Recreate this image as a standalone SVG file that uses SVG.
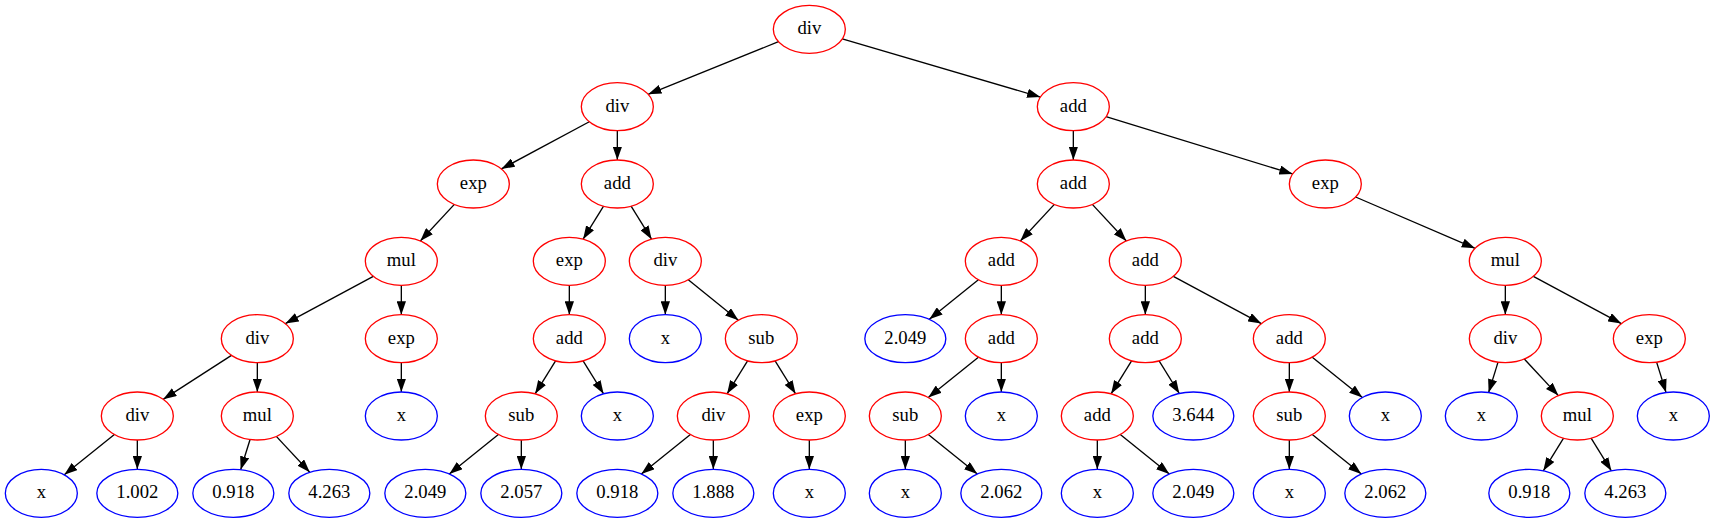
<svg xmlns="http://www.w3.org/2000/svg" width="1715" height="523" viewBox="0 0 1715 523" font-family="Liberation Serif, Times New Roman, serif">
<style>
.op ellipse{fill:none;stroke:#ff0000;stroke-width:1.33}
.lf ellipse{fill:none;stroke:#0000ff;stroke-width:1.33}
text{font-size:18.67px;text-anchor:middle;fill:#000}
#edges line{stroke:#000;stroke-width:1.33;marker-end:url(#ah)}
</style>
<defs>
<marker id="ah" markerUnits="userSpaceOnUse" viewBox="0 0 13.33 9.33" refX="13.33" refY="4.67" markerWidth="13.33" markerHeight="9.33" orient="auto">
<path d="M0,0 L13.33,4.67 L0,9.33 z" fill="#000"/>
</marker>
</defs>
<rect width="1715" height="523" fill="#fff"/>
<g id="edges">
<line x1="778.52" y1="41.74" x2="648.14" y2="94.26"/>
<line x1="842.29" y1="38.98" x2="1040.37" y2="97.02"/>
<line x1="589.30" y1="121.73" x2="501.36" y2="168.94"/>
<line x1="617.33" y1="130.67" x2="617.33" y2="160"/>
<line x1="1073.33" y1="130.67" x2="1073.33" y2="160"/>
<line x1="1106.03" y1="116.71" x2="1292.63" y2="173.96"/>
<line x1="454.35" y1="204.39" x2="420.31" y2="240.94"/>
<line x1="603.57" y1="206.18" x2="583.09" y2="239.15"/>
<line x1="631.09" y1="206.18" x2="651.57" y2="239.15"/>
<line x1="1054.35" y1="204.39" x2="1020.31" y2="240.94"/>
<line x1="1092.31" y1="204.39" x2="1126.35" y2="240.94"/>
<line x1="1355.59" y1="197.0" x2="1475.07" y2="248.33"/>
<line x1="373.30" y1="276.39" x2="285.36" y2="323.61"/>
<line x1="401.33" y1="285.33" x2="401.33" y2="314.67"/>
<line x1="569.33" y1="285.33" x2="569.33" y2="314.67"/>
<line x1="665.33" y1="285.33" x2="665.33" y2="314.67"/>
<line x1="688.28" y1="279.82" x2="738.38" y2="320.18"/>
<line x1="978.38" y1="279.82" x2="929.33" y2="319.34"/>
<line x1="1001.33" y1="285.33" x2="1001.33" y2="314.67"/>
<line x1="1145.33" y1="285.33" x2="1145.33" y2="314.67"/>
<line x1="1173.36" y1="276.39" x2="1261.30" y2="323.61"/>
<line x1="1505.33" y1="285.33" x2="1505.33" y2="314.67"/>
<line x1="1533.36" y1="276.39" x2="1621.30" y2="323.61"/>
<line x1="231.45" y1="355.35" x2="163.21" y2="399.32"/>
<line x1="257.33" y1="362.67" x2="257.33" y2="392"/>
<line x1="401.33" y1="362.67" x2="401.33" y2="392"/>
<line x1="555.57" y1="360.85" x2="535.09" y2="393.82"/>
<line x1="583.09" y1="360.85" x2="603.57" y2="393.82"/>
<line x1="747.57" y1="360.85" x2="727.09" y2="393.82"/>
<line x1="775.09" y1="360.85" x2="795.57" y2="393.82"/>
<line x1="978.38" y1="357.16" x2="928.28" y2="397.51"/>
<line x1="1001.33" y1="362.67" x2="1001.33" y2="392"/>
<line x1="1131.57" y1="360.85" x2="1111.09" y2="393.82"/>
<line x1="1159.09" y1="360.85" x2="1179.35" y2="393.48"/>
<line x1="1289.33" y1="362.67" x2="1289.33" y2="392"/>
<line x1="1312.28" y1="357.16" x2="1362.38" y2="397.51"/>
<line x1="1498.04" y1="362.17" x2="1488.62" y2="392.50"/>
<line x1="1524.31" y1="359.06" x2="1558.35" y2="395.61"/>
<line x1="1656.62" y1="362.17" x2="1666.04" y2="392.50"/>
<line x1="114.38" y1="434.49" x2="64.28" y2="474.84"/>
<line x1="137.33" y1="440" x2="137.33" y2="469.33"/>
<line x1="250.04" y1="439.5" x2="240.66" y2="469.73"/>
<line x1="276.31" y1="436.39" x2="309.77" y2="472.32"/>
<line x1="498.38" y1="434.49" x2="449.33" y2="474.0"/>
<line x1="521.33" y1="440" x2="521.33" y2="469.33"/>
<line x1="690.38" y1="434.49" x2="641.33" y2="474.0"/>
<line x1="713.33" y1="440" x2="713.33" y2="469.33"/>
<line x1="809.33" y1="440" x2="809.33" y2="469.33"/>
<line x1="905.33" y1="440" x2="905.33" y2="469.33"/>
<line x1="928.28" y1="434.49" x2="977.33" y2="474.0"/>
<line x1="1097.33" y1="440" x2="1097.33" y2="469.33"/>
<line x1="1120.28" y1="434.49" x2="1169.33" y2="474.0"/>
<line x1="1289.33" y1="440" x2="1289.33" y2="469.33"/>
<line x1="1312.28" y1="434.49" x2="1361.33" y2="474.0"/>
<line x1="1563.57" y1="438.18" x2="1543.31" y2="470.81"/>
<line x1="1591.09" y1="438.18" x2="1611.35" y2="470.81"/>
</g>
<g id="n0" class="op"><ellipse cx="809.33" cy="29.33" rx="36" ry="24"/><text x="809.33" y="34.33">div</text></g>
<g id="n1" class="op"><ellipse cx="617.33" cy="106.67" rx="36" ry="24"/><text x="617.33" y="111.67">div</text></g>
<g id="n2" class="op"><ellipse cx="1073.33" cy="106.67" rx="36" ry="24"/><text x="1073.33" y="111.67">add</text></g>
<g id="n3" class="op"><ellipse cx="473.33" cy="184" rx="36" ry="24"/><text x="473.33" y="189">exp</text></g>
<g id="n4" class="op"><ellipse cx="617.33" cy="184" rx="36" ry="24"/><text x="617.33" y="189">add</text></g>
<g id="n5" class="op"><ellipse cx="1073.33" cy="184" rx="36" ry="24"/><text x="1073.33" y="189">add</text></g>
<g id="n6" class="op"><ellipse cx="1325.33" cy="184" rx="36" ry="24"/><text x="1325.33" y="189">exp</text></g>
<g id="n7" class="op"><ellipse cx="401.33" cy="261.33" rx="36" ry="24"/><text x="401.33" y="266.33">mul</text></g>
<g id="n8" class="op"><ellipse cx="569.33" cy="261.33" rx="36" ry="24"/><text x="569.33" y="266.33">exp</text></g>
<g id="n9" class="op"><ellipse cx="665.33" cy="261.33" rx="36" ry="24"/><text x="665.33" y="266.33">div</text></g>
<g id="n10" class="op"><ellipse cx="1001.33" cy="261.33" rx="36" ry="24"/><text x="1001.33" y="266.33">add</text></g>
<g id="n11" class="op"><ellipse cx="1145.33" cy="261.33" rx="36" ry="24"/><text x="1145.33" y="266.33">add</text></g>
<g id="n12" class="op"><ellipse cx="1505.33" cy="261.33" rx="36" ry="24"/><text x="1505.33" y="266.33">mul</text></g>
<g id="n13" class="op"><ellipse cx="257.33" cy="338.67" rx="36" ry="24"/><text x="257.33" y="343.67">div</text></g>
<g id="n14" class="op"><ellipse cx="401.33" cy="338.67" rx="36" ry="24"/><text x="401.33" y="343.67">exp</text></g>
<g id="n15" class="op"><ellipse cx="569.33" cy="338.67" rx="36" ry="24"/><text x="569.33" y="343.67">add</text></g>
<g id="n16" class="lf"><ellipse cx="665.33" cy="338.67" rx="36" ry="24"/><text x="665.33" y="343.67">x</text></g>
<g id="n17" class="op"><ellipse cx="761.33" cy="338.67" rx="36" ry="24"/><text x="761.33" y="343.67">sub</text></g>
<g id="n18" class="lf"><ellipse cx="905.33" cy="338.67" rx="40.5" ry="24"/><text x="905.33" y="343.67">2.049</text></g>
<g id="n19" class="op"><ellipse cx="1001.33" cy="338.67" rx="36" ry="24"/><text x="1001.33" y="343.67">add</text></g>
<g id="n20" class="op"><ellipse cx="1145.33" cy="338.67" rx="36" ry="24"/><text x="1145.33" y="343.67">add</text></g>
<g id="n21" class="op"><ellipse cx="1289.33" cy="338.67" rx="36" ry="24"/><text x="1289.33" y="343.67">add</text></g>
<g id="n22" class="op"><ellipse cx="1505.33" cy="338.67" rx="36" ry="24"/><text x="1505.33" y="343.67">div</text></g>
<g id="n23" class="op"><ellipse cx="1649.33" cy="338.67" rx="36" ry="24"/><text x="1649.33" y="343.67">exp</text></g>
<g id="n24" class="op"><ellipse cx="137.33" cy="416" rx="36" ry="24"/><text x="137.33" y="421">div</text></g>
<g id="n25" class="op"><ellipse cx="257.33" cy="416" rx="36" ry="24"/><text x="257.33" y="421">mul</text></g>
<g id="n26" class="lf"><ellipse cx="401.33" cy="416" rx="36" ry="24"/><text x="401.33" y="421">x</text></g>
<g id="n27" class="op"><ellipse cx="521.33" cy="416" rx="36" ry="24"/><text x="521.33" y="421">sub</text></g>
<g id="n28" class="lf"><ellipse cx="617.33" cy="416" rx="36" ry="24"/><text x="617.33" y="421">x</text></g>
<g id="n29" class="op"><ellipse cx="713.33" cy="416" rx="36" ry="24"/><text x="713.33" y="421">div</text></g>
<g id="n30" class="op"><ellipse cx="809.33" cy="416" rx="36" ry="24"/><text x="809.33" y="421">exp</text></g>
<g id="n31" class="op"><ellipse cx="905.33" cy="416" rx="36" ry="24"/><text x="905.33" y="421">sub</text></g>
<g id="n32" class="lf"><ellipse cx="1001.33" cy="416" rx="36" ry="24"/><text x="1001.33" y="421">x</text></g>
<g id="n33" class="op"><ellipse cx="1097.33" cy="416" rx="36" ry="24"/><text x="1097.33" y="421">add</text></g>
<g id="n34" class="lf"><ellipse cx="1193.33" cy="416" rx="40.5" ry="24"/><text x="1193.33" y="421">3.644</text></g>
<g id="n35" class="op"><ellipse cx="1289.33" cy="416" rx="36" ry="24"/><text x="1289.33" y="421">sub</text></g>
<g id="n36" class="lf"><ellipse cx="1385.33" cy="416" rx="36" ry="24"/><text x="1385.33" y="421">x</text></g>
<g id="n37" class="lf"><ellipse cx="1481.33" cy="416" rx="36" ry="24"/><text x="1481.33" y="421">x</text></g>
<g id="n38" class="op"><ellipse cx="1577.33" cy="416" rx="36" ry="24"/><text x="1577.33" y="421">mul</text></g>
<g id="n39" class="lf"><ellipse cx="1673.33" cy="416" rx="36" ry="24"/><text x="1673.33" y="421">x</text></g>
<g id="n40" class="lf"><ellipse cx="41.33" cy="493.33" rx="36" ry="24"/><text x="41.33" y="498.33">x</text></g>
<g id="n41" class="lf"><ellipse cx="137.33" cy="493.33" rx="40.5" ry="24"/><text x="137.33" y="498.33">1.002</text></g>
<g id="n42" class="lf"><ellipse cx="233.33" cy="493.33" rx="40.5" ry="24"/><text x="233.33" y="498.33">0.918</text></g>
<g id="n43" class="lf"><ellipse cx="329.33" cy="493.33" rx="40.5" ry="24"/><text x="329.33" y="498.33">4.263</text></g>
<g id="n44" class="lf"><ellipse cx="425.33" cy="493.33" rx="40.5" ry="24"/><text x="425.33" y="498.33">2.049</text></g>
<g id="n45" class="lf"><ellipse cx="521.33" cy="493.33" rx="40.5" ry="24"/><text x="521.33" y="498.33">2.057</text></g>
<g id="n46" class="lf"><ellipse cx="617.33" cy="493.33" rx="40.5" ry="24"/><text x="617.33" y="498.33">0.918</text></g>
<g id="n47" class="lf"><ellipse cx="713.33" cy="493.33" rx="40.5" ry="24"/><text x="713.33" y="498.33">1.888</text></g>
<g id="n48" class="lf"><ellipse cx="809.33" cy="493.33" rx="36" ry="24"/><text x="809.33" y="498.33">x</text></g>
<g id="n49" class="lf"><ellipse cx="905.33" cy="493.33" rx="36" ry="24"/><text x="905.33" y="498.33">x</text></g>
<g id="n50" class="lf"><ellipse cx="1001.33" cy="493.33" rx="40.5" ry="24"/><text x="1001.33" y="498.33">2.062</text></g>
<g id="n51" class="lf"><ellipse cx="1097.33" cy="493.33" rx="36" ry="24"/><text x="1097.33" y="498.33">x</text></g>
<g id="n52" class="lf"><ellipse cx="1193.33" cy="493.33" rx="40.5" ry="24"/><text x="1193.33" y="498.33">2.049</text></g>
<g id="n53" class="lf"><ellipse cx="1289.33" cy="493.33" rx="36" ry="24"/><text x="1289.33" y="498.33">x</text></g>
<g id="n54" class="lf"><ellipse cx="1385.33" cy="493.33" rx="40.5" ry="24"/><text x="1385.33" y="498.33">2.062</text></g>
<g id="n55" class="lf"><ellipse cx="1529.33" cy="493.33" rx="40.5" ry="24"/><text x="1529.33" y="498.33">0.918</text></g>
<g id="n56" class="lf"><ellipse cx="1625.33" cy="493.33" rx="40.5" ry="24"/><text x="1625.33" y="498.33">4.263</text></g>
</svg>
